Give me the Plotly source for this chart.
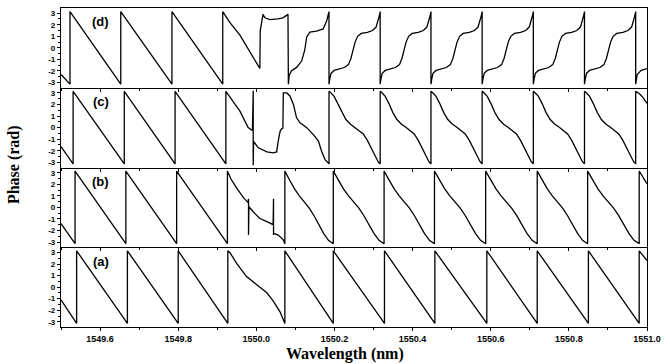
import plotly.graph_objects as go
from plotly.subplots import make_subplots

# ---------------- data (wavelength in nm, phase in rad) ----------------
PI = 3.14
panel_labels = ["(d)", "(c)", "(b)", "(a)"]
x_tick_vals = [1549.6, 1549.8, 1550.0, 1550.2, 1550.4, 1550.6, 1550.8, 1551.0]
x_tick_text = ["1549.6", "1549.8", "1550.0", "1550.2", "1550.4", "1550.6", "1550.8", "1551.0"]
y_tick_vals = [-3, -2, -1, 0, 1, 2, 3]
y_tick_text = ["-3", "-2", "-1", "0", "1", "2", "3"]

# straight sawtooth shape (fraction of a period -> phase)
lin_f = [0.0, 1.0]
lin_p = [PI, -PI]

# ---- panel (a) ----
a_lead_x = [1549.500, 1549.540]
a_lead_p = [-1.1, -PI]
a_saw_wraps = [1549.540, 1549.670, 1549.800, 1549.927]
a_anom_x = [1549.927, 1549.933, 1549.950, 1549.975, 1550.001, 1550.027, 1550.043, 1550.061, 1550.073]
a_anom_p = [PI, 2.95, 2.03, 0.91, 0.21, -0.49, -1.19, -2.16, -PI]
a_s_wraps = [1550.073, 1550.197, 1550.328, 1550.457, 1550.590, 1550.719, 1550.850, 1550.980]
a_tail_x = [1550.980, 1551.000]
a_tail_p = [PI, 2.3]

# ---- panel (b) ----
b_lead_x = [1549.500, 1549.536]
b_lead_p = [-1.4, -PI]
b_saw_wraps = [1549.536, 1549.666, 1549.796, 1549.926]
b_anom_x = [1549.926, 1549.935, 1549.951, 1549.968, 1549.977, 1549.979, 1549.980, 1549.980, 1549.981,
            1549.992, 1550.009, 1550.027, 1550.039, 1550.043, 1550.044, 1550.044, 1550.045,
            1550.056, 1550.069, 1550.073]
b_anom_p = [PI, 2.45, 1.61, 0.8, 0.5, 0.42, 0.75, -2.38, 0.05,
            -0.38, -0.96, -1.24, -1.45, -1.5, 0.75, -2.38, -2.25,
            -2.4, -2.81, -PI]
b_s_wraps = [1550.073, 1550.197, 1550.327, 1550.456, 1550.587, 1550.719, 1550.848, 1550.980]
b_shape_f = [0.0, 0.1, 0.2, 0.3, 0.4, 0.5, 0.6, 0.7, 0.8, 0.9, 1.0]
b_shape_p = [PI, 2.35, 1.6, 1.0, 0.5, -0.05, -0.7, -1.5, -2.25, -2.85, -PI]
b_tail_x = [1550.980, 1550.990, 1551.000]
b_tail_p = [PI, 2.55, 2.05]

# ---- panel (c) ----
c_lead_x = [1549.500, 1549.531]
c_lead_p = [-1.65, -PI]
c_saw_wraps = [1549.531, 1549.662, 1549.792, 1549.922]
c_anom_x = [1549.922, 1549.933, 1549.958, 1549.979, 1549.990, 1549.992, 1549.992, 1549.993,
            1550.005, 1550.027, 1550.043, 1550.052, 1550.056, 1550.061, 1550.065, 1550.068,
            1550.069, 1550.078, 1550.086, 1550.095, 1550.103, 1550.112, 1550.129, 1550.146,
            1550.159, 1550.167, 1550.176, 1550.186]
c_anom_p = [PI, 2.59, 1.43, 0.0, -0.25, 3.2, -3.25, -1.2,
            -1.75, -2.1, -2.19, -2.1, -1.17, -0.3, -0.1, -0.05,
            3.0, 3.0, 2.74, 2.0, 0.85, 0.42, 0.0, -0.6,
            -1.17, -2.04, -2.77, -PI]
c_s_wraps = [1550.186, 1550.317, 1550.447, 1550.578, 1550.709, 1550.840, 1550.971]
c_shape_f = [0.0, 0.04, 0.1, 0.17, 0.25, 0.33, 0.42, 0.5, 0.58, 0.67, 0.75, 0.83, 0.9, 0.96, 1.0]
c_shape_p = [PI, 3.0, 2.7, 2.1, 1.3, 0.7, 0.3, 0.05, -0.2, -0.55, -1.1, -1.85, -2.5, -2.95, -PI]
c_tail_x = [1550.971, 1550.980, 1550.990, 1551.000]
c_tail_p = [PI, 2.95, 2.6, 2.1]

# ---- panel (d) ----
d_lead_x = [1549.500, 1549.523]
d_lead_p = [-2.3, -PI]
d_saw_wraps = [1549.523, 1549.653, 1549.784, 1549.914]
d_anom_x = [1549.914, 1549.932, 1549.958, 1549.984, 1550.004, 1550.009, 1550.010, 1550.017,
            1550.022, 1550.035, 1550.055, 1550.068, 1550.081,
            1550.082, 1550.084, 1550.090, 1550.103, 1550.116, 1550.124, 1550.129, 1550.137,
            1550.154, 1550.171, 1550.180, 1550.186]
d_anom_p = [PI, 2.2, 1.1, -0.4, -1.6, -1.78, 1.5, 2.9,
            2.6, 2.45, 2.5, 2.6, 2.9,
            -PI, -2.39, -1.97, -1.69, -1.14, -0.17, 0.94, 1.36,
            1.44, 1.64, 2.33, PI]
d_s_wraps = [1550.186, 1550.317, 1550.447, 1550.578, 1550.709, 1550.840, 1550.971]
d_shape_f = [0.0, 0.015, 0.04, 0.1, 0.2, 0.3, 0.38, 0.43, 0.47, 0.51, 0.56, 0.63, 0.75, 0.85, 0.92, 0.96, 0.985, 1.0]
d_shape_p = [-PI, -2.7, -2.2, -1.95, -1.85, -1.7, -1.45, -0.9, -0.2, 0.5, 1.0, 1.25, 1.35, 1.5, 1.8, 2.3, 2.8, PI]
d_tail_x = [1550.971, 1550.975, 1550.985, 1551.000]
d_tail_p = [-PI, -2.3, -1.95, -1.8]


def place(wraps, shape_f, shape_p):
    xs, ps = [], []
    for w0, w1 in zip(wraps[:-1], wraps[1:]):
        for f, p in zip(shape_f, shape_p):
            xs.append(w0 + f * (w1 - w0))
            ps.append(p)
    return xs, ps


def build(lead_x, lead_p, saw_wraps, anom_x, anom_p, s_wraps, shape_f, shape_p, tail_x, tail_p):
    xs, ps = list(lead_x), list(lead_p)
    sx, sp = place(saw_wraps, lin_f, lin_p)
    xs += sx; ps += sp
    xs += anom_x; ps += anom_p
    sx, sp = place(s_wraps, shape_f, shape_p)
    xs += sx; ps += sp
    xs += tail_x; ps += tail_p
    return xs, ps


panels = [
    build(d_lead_x, d_lead_p, d_saw_wraps, d_anom_x, d_anom_p, d_s_wraps, d_shape_f, d_shape_p, d_tail_x, d_tail_p),
    build(c_lead_x, c_lead_p, c_saw_wraps, c_anom_x, c_anom_p, c_s_wraps, c_shape_f, c_shape_p, c_tail_x, c_tail_p),
    build(b_lead_x, b_lead_p, b_saw_wraps, b_anom_x, b_anom_p, b_s_wraps, b_shape_f, b_shape_p, b_tail_x, b_tail_p),
    build(a_lead_x, a_lead_p, a_saw_wraps, a_anom_x, a_anom_p, a_s_wraps, lin_f, lin_p, a_tail_x, a_tail_p),
]

# ---------------- figure ----------------
fig = make_subplots(rows=4, cols=1, shared_xaxes=True, vertical_spacing=0)

x_tick_font = dict(family="Liberation Sans, Arial, sans-serif", size=9, color="black", weight="bold")
y_tick_font = dict(family="Liberation Sans, Arial, sans-serif", size=8, color="black", weight="bold")

for i, (xs, ps) in enumerate(panels):
    r = i + 1
    fig.add_trace(go.Scatter(x=xs, y=ps, mode="lines",
                             line=dict(color="black", width=1.3),
                             showlegend=False, hoverinfo="skip"), row=r, col=1)
    fig.update_xaxes(range=[1549.5, 1551.0], showgrid=False, zeroline=False,
                     showline=True, linecolor="black", linewidth=1.2,
                     mirror=(r == 1),
                     ticks="outside", ticklen=3, tickwidth=1, tickcolor="black",
                     tickmode="array", tickvals=x_tick_vals, ticktext=x_tick_text,
                     minor=dict(ticks="outside", ticklen=2, tickmode="linear",
                                tick0=1549.5, dtick=0.1, tickcolor="black"),
                     showticklabels=(r == 4), tickfont=x_tick_font,
                     row=r, col=1)
    fig.update_yaxes(range=[-3.45, 3.45], showgrid=False, zeroline=False,
                     showline=True, linecolor="black", linewidth=1.2, mirror=True,
                     ticks="outside", ticklen=3, tickwidth=1, tickcolor="black",
                     tickmode="array", tickvals=y_tick_vals, ticktext=y_tick_text,
                     minor=dict(ticks="outside", ticklen=2, tickmode="linear",
                                tick0=-3, dtick=0.5, tickcolor="black"),
                     tickfont=y_tick_font, row=r, col=1)
    yref = "y" if r == 1 else f"y{r}"
    xref = "x" if r == 1 else f"x{r}"
    fig.add_annotation(x=1549.602, y=2.25, xref=xref, yref=yref, text=panel_labels[i],
                       showarrow=False, font=dict(family="Liberation Sans, Arial, sans-serif",
                                                  size=13, color="black", weight="bold"))

title_font = dict(family="Liberation Serif, Times New Roman, serif", size=16, color="black", weight="bold")
fig.add_annotation(x=-0.080, y=0.508, xref="paper", yref="paper", text="Phase (rad)",
                   textangle=-90, showarrow=False, font=title_font,
                   xanchor="center", yanchor="middle")
fig.add_annotation(x=0.484, y=-0.084, xref="paper", yref="paper", text="Wavelength (nm)",
                   showarrow=False, font=title_font, xanchor="center", yanchor="middle")

fig.update_layout(width=670, height=364, margin=dict(l=61, r=23, t=8, b=37),
                  paper_bgcolor="white", plot_bgcolor="white")

fig.write_html("out.html", config={"displayModeBar": False},
               post_script="document.body.style.margin='0';document.body.style.overflow='hidden';")
